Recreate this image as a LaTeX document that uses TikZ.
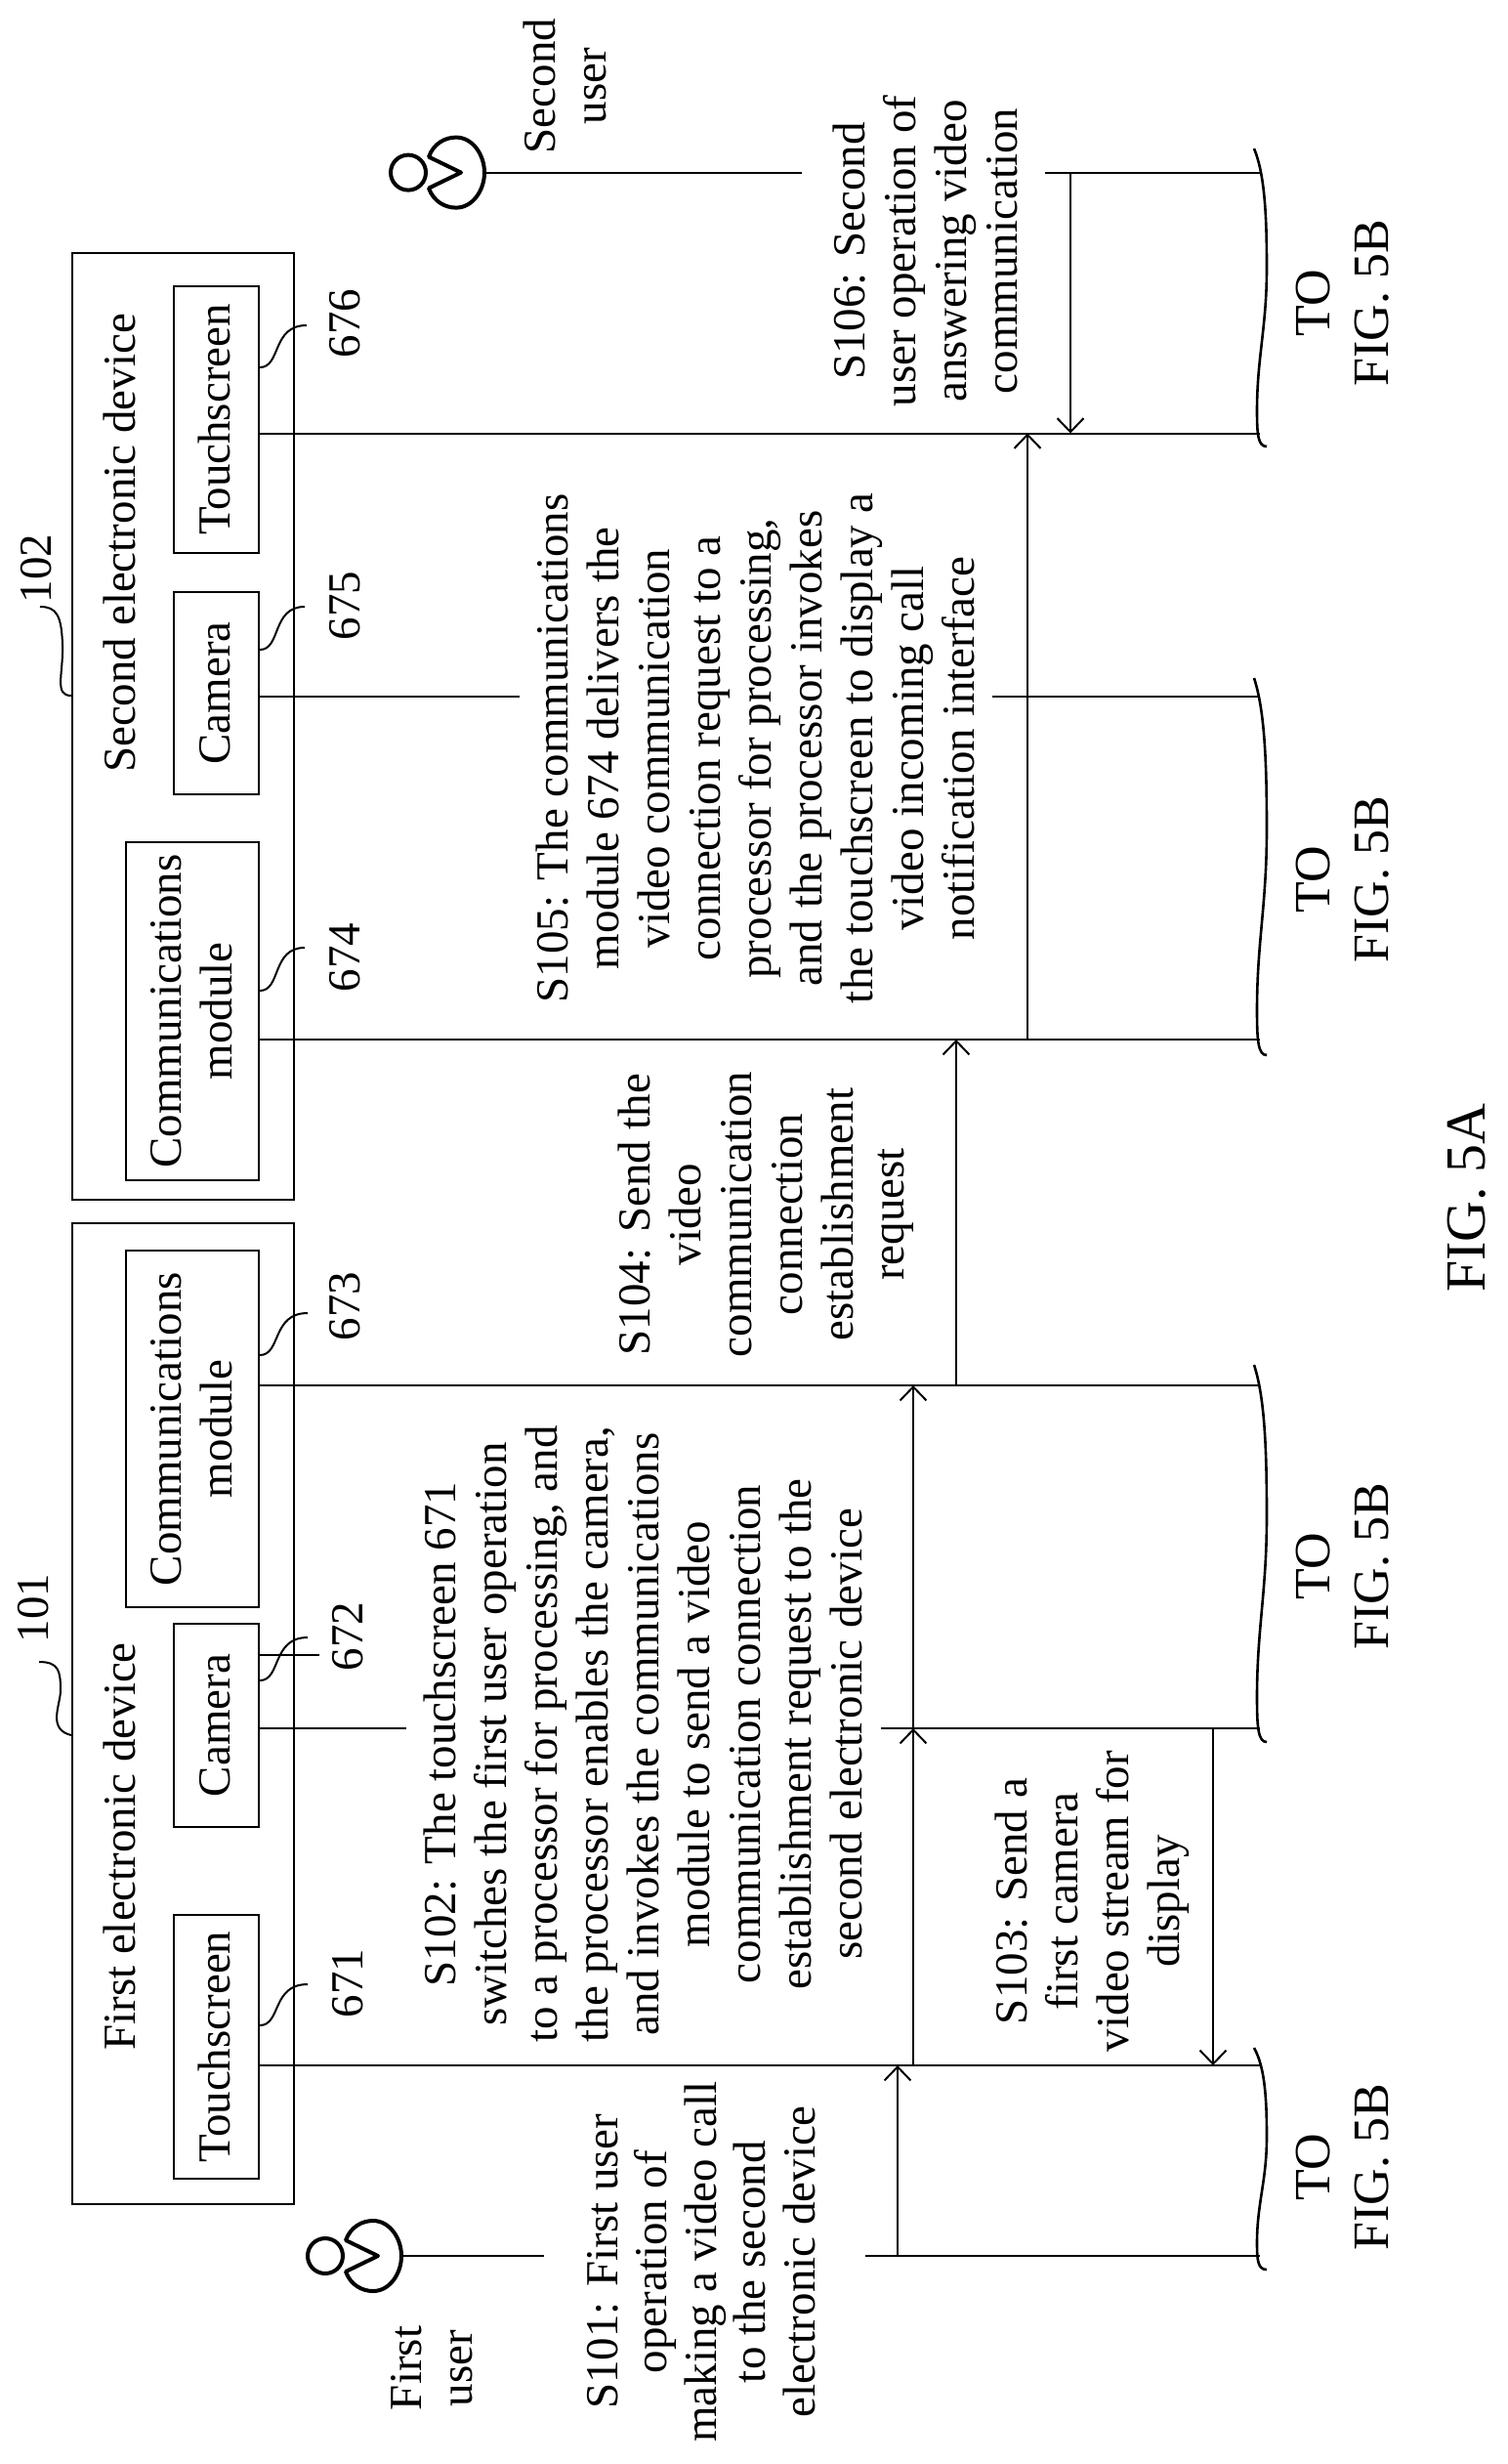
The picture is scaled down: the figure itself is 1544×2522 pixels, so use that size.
\documentclass[tikz,border=0pt]{standalone}
\usepackage{fontspec}
\usepackage{graphicx}
\setmainfont{Liberation Serif}
\usetikzlibrary{arrows.meta,calc}
\newcommand{\rot}[1]{\rotatebox{90}{\raisebox{-4pt}[\height][\depth]{\begin{tabular}{@{}c@{}}#1\end{tabular}}}}
\newcommand{\tobrace}[2]{\draw[brace] (1284,#1) .. controls (1294,{#1+.08*#2}) and (1297,{#1+.2*#2}) .. (1297,{#1+.4*#2}) .. controls (1297,{#1+.6*#2}) and (1287,{#1+.7*#2}) .. (1287,{#1+.88*#2}) .. controls (1287,{#1+.96*#2}) and (1288,{#1+#2}) .. (1297,{#1+#2});}
\tikzset{
  txt/.style={inner sep=0pt,font=\fontsize{47}{52}\selectfont},
  tofig/.style={inner sep=0pt,font=\fontsize{52}{60}\selectfont},
  devbox/.style={draw,line width=2pt,inner sep=0pt,font=\fontsize{47}{52}\selectfont},
  life/.style={line width=2pt},
  flow/.style={line width=2pt,-{Straight Barb[length=14pt,width=27pt,line width=2pt]}},
  leader/.style={line width=2pt},
  brace/.style={line width=2.6pt},
  usericon/.pic={
    \draw[line width=4pt] (-78,0) circle (18);
    \draw[line width=4pt,line join=round] (-24,0) -- (-57,-16) .. controls (-52,-30) and (-40,-36) .. (-29,-36) .. controls (-12,-36) and (0,-18) .. (0,0) .. controls (0,18) and (-12,36) .. (-29,36) .. controls (-40,36) and (-52,30) .. (-57,16) -- cycle;
  }
}
\begin{document}
\begin{tikzpicture}[x=1pt,y=-1pt]
\useasboundingbox (0,0) rectangle (1544,2522);
\fill[white] (0,0) rectangle (1544,2522);
% device frames
\node[devbox,minimum width=227pt,minimum height=1004pt] (dev1) at (187.5,1754) {};
\node[devbox,minimum width=227pt,minimum height=969pt] (dev2) at (187.5,743.5) {};
\node[txt] (dev1t) at (124,1890) {\rot{First electronic device}};
\node[txt] (dev2t) at (124,556) {\rot{Second electronic device}};
% module boxes
\node[devbox,minimum width=87pt,minimum height=270pt] (ts1) at (221.5,2095) {\rot{Touchscreen}};
\node[devbox,minimum width=87pt,minimum height=208pt] (cam1) at (221.5,1766) {\rot{Camera}};
\node[devbox,minimum width=136pt,minimum height=365pt] (com1) at (197,1462.5) {\rot{Communications\\module}};
\node[devbox,minimum width=136pt,minimum height=346pt] (com2) at (197,1035) {\rot{Communications\\module}};
\node[devbox,minimum width=87pt,minimum height=207pt] (cam2) at (221.5,709.5) {\rot{Camera}};
\node[devbox,minimum width=87pt,minimum height=273pt] (ts2) at (221.5,429.5) {\rot{Touchscreen}};
% reference numbers
\node[txt] (n101) at (35,1646) {\rot{101}};
\node[txt] (n102) at (38,582) {\rot{102}};
\node[txt] (n671) at (357,2030) {\rot{671}};
\node[txt] (n672) at (357,1675) {\rot{672}};
\node[txt] (n673) at (354,1337) {\rot{673}};
\node[txt] (n674) at (354,980) {\rot{674}};
\node[txt] (n675) at (354,620) {\rot{675}};
\node[txt] (n676) at (354,331) {\rot{676}};
% leaders
\draw[leader] (ts1.east |- 0,2073) .. controls (288,2073) and (278,2031) .. (315,2031);
\draw[leader] (cam1.east |- 0,1720) .. controls (288,1720) and (278,1676) .. (315,1676);
\draw[leader] (com1.east |- 0,1387) .. controls (288,1387) and (278,1344) .. (315,1344);
\draw[leader] (com2.east |- 0,1014) .. controls (288,1014) and (278,970) .. (312,970);
\draw[leader] (cam2.east |- 0,665) .. controls (288,665) and (278,621) .. (312,621);
\draw[leader] (ts2.east |- 0,376) .. controls (288,376) and (278,333) .. (314,333);
\draw[life] (cam1.east |- 0,1694) -- (327,1694);
\draw[leader] (dev1.west |- 0,1776) .. controls (48,1770) and (62,1745) .. (62,1730) .. controls (62,1710) and (60,1701) .. (40,1701);
\draw[leader] (dev2.west |- 0,712) .. controls (55,712) and (65,690) .. (64,660) .. controls (63,630) and (58,621) .. (41,621);
% user icons
\coordinate (user1) at (411,2309);
\coordinate (user2) at (496,176.6);
\pic at (user1) {usericon};
\pic at (user2) {usericon};
\node[txt] (u1t) at (443,2424) {\rot{First\\user}};
\node[txt] (u2t) at (580,88) {\rot{Second\\user}};
% lifeline ends
\coordinate (lts1) at (1290,2114);
\coordinate (lcam1) at (1290,1769);
\coordinate (lcom1) at (1290,1418);
\coordinate (lcom2) at (1290,1064);
\coordinate (lcam2) at (1290,713);
\coordinate (lts2) at (1290,443.5);
\coordinate (lu1) at (1290,2309);
\coordinate (lu2) at (1290,176.6);
% lifelines
\draw[life] (ts1.east |- lts1) -- (lts1);
\draw[life] (com1.east |- lcom1) -- (lcom1);
\draw[life] (com2.east |- lcom2) -- (lcom2);
\draw[life] (ts2.east |- lts2) -- (lts2);
\draw[life] (cam1.east |- lcam1) -- (416,1769) (902,1769) -- (lcam1);
\draw[life] (cam2.east |- lcam2) -- (532,713) (1016,713) -- (lcam2);
\draw[life] (user1) -- (557,2309) (886,2309) -- (lu1);
\draw[life] (user2) -- (821,176.6) (1070,176.6) -- (lu2);
% messages
\coordinate (a101) at (919,2309);
\coordinate (a102) at (935,2114);
\coordinate (a103) at (1242,1769);
\coordinate (a104) at (979,1418);
\coordinate (a105) at (1052,1064);
\coordinate (a106) at (1096,176.6);
\draw[flow] (a101) -- (a101 |- lts1);
\draw[flow] (a102) -- (a102 |- lcom1);
\draw[flow] (a102) -- (a102 |- lcam1);
\draw[flow] (a103) -- (a103 |- lts1);
\draw[flow] (a104) -- (a104 |- lcom2);
\draw[flow] (a105) -- (a105 |- lts2);
\draw[flow] (a106) -- (a106 |- lts2);
% step labels
\node[txt,font=\fontsize{47}{50.5}\selectfont] (s101) at (719,2315) {\rot{S101: First user\\operation of\\making a video call\\to the second\\electronic device}};
\node[txt] (s102) at (660,1775) {\rot{S102: The touchscreen 671\\switches the first user operation\\to a processor for processing, and\\the processor enables the camera,\\and invokes the communications\\module to send a video\\communication connection\\establishment request to the\\second electronic device}};
\node[txt] (s103) at (1115,1946) {\rot{S103: Send a\\first camera\\video stream for\\display}};
\node[txt] (s104) at (781,1243) {\rot{S104: Send the\\video\\communication\\connection\\establishment\\request}};
\node[txt] (s105) at (775,766) {\rot{S105: The communications\\module 674 delivers the\\video communication\\connection request to a\\processor for processing,\\and the processor invokes\\the touchscreen to display a\\video incoming call\\notification interface}};
\node[txt] (s106) at (949,257) {\rot{S106: Second\\user operation of\\answering video\\communication}};
% continuation braces
\tobrace{152}{305}
\tobrace{694}{386}
\tobrace{1397}{386}
\tobrace{2096}{227}
\node[tofig] (to1) at (1375,310) {\rot{TO\\FIG. 5B}};
\node[tofig] (to2) at (1375,900) {\rot{TO\\FIG. 5B}};
\node[tofig] (to3) at (1375,1603) {\rot{TO\\FIG. 5B}};
\node[tofig] (to4) at (1375,2218) {\rot{TO\\FIG. 5B}};
\node[inner sep=0pt,font=\fontsize{58}{64}\selectfont] (fig) at (1504,1226) {\rot{FIG. 5A}};
\end{tikzpicture}
\end{document}
